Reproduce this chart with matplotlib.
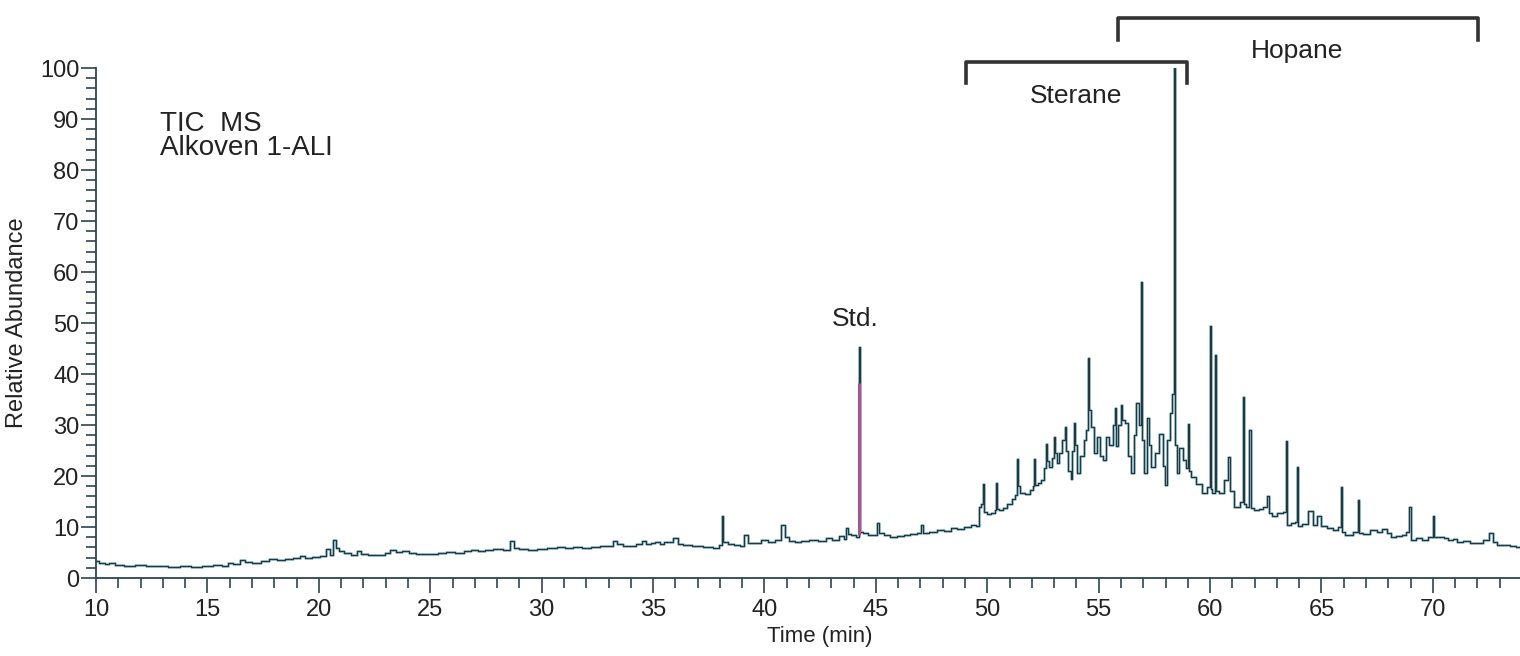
import numpy as np
import matplotlib.pyplot as plt
from matplotlib.ticker import MultipleLocator

plt.rcParams['font.family'] = ['Liberation Sans', 'DejaVu Sans']

# TIC trace (time in min, relative abundance in %)
time = [
    10.0, 10.3, 10.5, 10.7, 11.0, 11.5, 12.0, 12.5, 13.0, 13.5, 14.0, 14.5, 15.0, 15.5, 15.8,
    16.0, 16.3, 16.6, 16.8, 17.2, 17.6, 17.9, 18.3, 18.7, 19.0, 19.3, 19.5, 19.9, 20.2, 20.4,
    20.6, 20.7, 20.8, 21.0, 21.3, 21.6, 21.8, 22.0, 22.4, 22.8, 23.1, 23.3, 23.6, 23.9, 24.2,
    24.5, 24.9, 25.2, 25.5, 25.9, 26.3, 26.7, 27.0, 27.3, 27.6, 28.0, 28.5, 28.7, 28.8, 29.2,
    29.6, 30.0, 30.5, 30.9, 31.2, 31.6, 32.0, 32.4, 32.8, 33.1, 33.3, 33.5, 33.8, 34.1, 34.4,
    34.6, 34.8, 35.0, 35.2, 35.4, 35.6, 35.8, 36.0, 36.2, 36.5, 37.0, 37.5, 37.9, 38.05, 38.1,
    38.2, 38.5, 38.8, 39.0, 39.15, 39.4, 39.7, 40.0, 40.3, 40.6, 40.85, 41.0, 41.2, 41.5, 41.8,
    42.2, 42.6, 42.9, 43.2, 43.5, 43.65, 43.7, 43.8, 44.0, 44.2, 44.26, 44.32, 44.5, 44.8, 45.0,
    45.08, 45.2, 45.5, 45.8, 46.1, 46.4, 46.7, 47.0, 47.06, 47.15, 47.6, 47.9, 48.2, 48.5, 48.8,
    49.1, 49.4, 49.6, 49.64, 49.80, 49.85, 49.90, 50.05, 50.30, 50.38, 50.41, 50.46, 50.6, 50.8,
    51.0, 51.2, 51.33, 51.36, 51.42, 51.55, 51.8, 52.0, 52.08, 52.11, 52.16, 52.35, 52.5, 52.6,
    52.64, 52.7, 52.82, 52.95, 53.0, 53.06, 53.16, 53.3, 53.45, 53.49, 53.55, 53.7, 53.78, 53.86,
    53.9, 53.96, 54.1, 54.25, 54.4, 54.5, 54.55, 54.6, 54.7, 54.85, 55.0, 55.15, 55.25, 55.4,
    55.55, 55.7, 55.74, 55.8, 55.95, 56.02, 56.1, 56.25, 56.4, 56.51, 56.62, 56.76, 56.85, 56.92,
    56.98, 57.08, 57.22, 57.3, 57.42, 57.6, 57.82, 57.92, 58.0, 58.13, 58.25, 58.35, 58.40, 58.46,
    58.53, 58.7, 58.88, 59.0, 59.05, 59.1, 59.2, 59.5, 59.75, 59.95, 60.0, 60.05, 60.15, 60.25,
    60.3, 60.5, 60.75, 60.85, 60.92, 61.2, 61.45, 61.5, 61.55, 61.65, 61.8, 61.86, 62.05, 62.3,
    62.45, 62.62, 62.7, 62.85, 63.15, 63.38, 63.44, 63.5, 63.75, 63.9, 63.93, 63.98, 64.3, 64.53,
    64.68, 64.9, 65.1, 65.4, 65.6, 65.85, 65.89, 65.95, 66.2, 66.6, 66.66, 66.72, 67.0, 67.35,
    67.6, 67.85, 68.0, 68.2, 68.5, 68.7, 68.9, 68.95, 69.05, 69.4, 69.6, 69.95, 70.02, 70.1,
    70.4, 70.6, 70.8, 71.0, 71.2, 71.5, 71.8, 72.1, 72.4, 72.64, 72.8, 73.0, 73.3, 73.6, 73.9,
]
abundance = [
    3.3, 3.0, 2.8, 2.9, 2.5, 2.4, 2.5, 2.4, 2.3, 2.1, 2.3, 2.2, 2.4, 2.5, 2.4,
    2.9, 2.8, 3.6, 3.2, 3.0, 3.4, 3.7, 3.6, 3.8, 3.9, 4.3, 4.0, 4.1, 4.4, 5.6,
    4.5, 7.4, 5.8, 5.2, 4.9, 4.6, 5.2, 4.7, 4.5, 4.6, 4.9, 5.4, 5.1, 5.3, 5.0,
    4.8, 4.7, 4.7, 4.9, 5.1, 5.0, 5.3, 5.5, 5.2, 5.4, 5.6, 5.4, 7.2, 5.8, 5.6,
    5.5, 5.6, 5.8, 6.0, 5.8, 6.0, 5.8, 6.0, 6.2, 6.3, 7.3, 6.6, 6.2, 6.3, 6.7,
    7.2, 6.6, 6.8, 7.0, 6.6, 7.1, 7.0, 7.8, 6.7, 6.5, 6.3, 6.1, 5.9, 6.4, 12.2,
    7.0, 6.6, 6.5, 6.3, 8.4, 6.8, 6.9, 7.5, 7.0, 7.4, 10.4, 8.0, 7.3, 7.1, 7.2,
    7.4, 7.3, 7.8, 7.4, 8.2, 7.6, 9.8, 8.6, 8.4, 8.0, 45.3, 9.0, 8.8, 8.4, 8.5,
    10.8, 8.8, 8.4, 8.0, 8.3, 8.5, 8.6, 8.8, 10.4, 8.8, 9.0, 9.4, 9.3, 9.8, 9.6,
    10.0, 10.3, 10.2, 14.0, 14.5, 18.4, 13.0, 12.6, 12.8, 13.4, 18.6, 13.6, 13.3, 13.8,
    14.6, 15.5, 16.2, 23.3, 18.0, 16.6, 16.4, 17.2, 18.0, 23.3, 18.2, 18.6, 19.2, 21.5,
    26.3, 23.0, 21.8, 23.5, 27.6, 24.5, 22.5, 24.5, 27.0, 29.7, 25.0, 21.0, 19.5, 25.0,
    30.4, 26.0, 20.5, 24.0, 27.0, 29.0, 43.2, 33.0, 29.7, 24.5, 27.7, 24.0, 23.1, 27.7,
    26.0, 30.0, 33.3, 25.8, 30.0, 34.0, 31.0, 30.4, 24.0, 20.5, 28.0, 34.3, 30.0, 58.0,
    27.0, 20.5, 31.4, 26.0, 21.8, 24.5, 28.3, 22.0, 18.3, 27.0, 32.3, 36.0, 100.0, 26.0,
    20.5, 25.4, 23.1, 21.5, 30.2, 21.0, 19.8, 18.5, 16.6, 17.9, 49.4, 17.5, 16.6, 43.7,
    17.0, 16.6, 19.2, 23.8, 17.0, 14.0, 15.0, 35.4, 14.5, 14.0, 29.0, 13.8, 13.3, 13.6,
    14.0, 16.0, 12.8, 12.1, 12.7, 13.0, 26.9, 10.4, 10.8, 11.0, 21.8, 10.1, 10.6, 13.1,
    10.4, 12.1, 10.1, 9.8, 9.4, 10.0, 17.9, 9.1, 8.5, 9.0, 15.3, 8.8, 8.6, 9.4,
    9.0, 9.7, 8.9, 8.1, 8.3, 8.5, 9.0, 14.0, 7.5, 7.8, 7.5, 8.0, 12.1, 8.1,
    8.0, 7.8, 7.4, 7.6, 7.1, 7.3, 6.8, 6.9, 7.5, 8.8, 7.0, 6.5, 6.4, 6.2, 6.0,
]

# internal standard peak (time, height of coloured lower part)
std_time = 44.26
std_low = 38.2

fig = plt.figure(figsize=(15.2, 6.56), dpi=100)
ax = fig.add_axes([0.0632, 0.1189, 0.9368, 0.7774])

ax.plot(time, abundance, color='#4a9bb5', lw=2.0, alpha=0.55, drawstyle='steps-mid')
ax.plot(time, abundance, color='#25363d', lw=0.9, drawstyle='steps-mid')
ax.vlines(std_time, 8.4, std_low, color='#b0508c', lw=2.2)

ax.set_xlim(10, 73.91)
ax.set_ylim(0, 100)
for s in ['top', 'right']:
    ax.spines[s].set_visible(False)
for s in ['left', 'bottom']:
    ax.spines[s].set_color('#2d4450')
    ax.spines[s].set_linewidth(1.3)

ax.xaxis.set_major_locator(MultipleLocator(5))
ax.xaxis.set_minor_locator(MultipleLocator(1))
ax.yaxis.set_major_locator(MultipleLocator(10))
ax.yaxis.set_minor_locator(MultipleLocator(2))
ax.tick_params(which='both', direction='out', color='#2d4450', width=1.2)
ax.tick_params(which='major', length=11, labelsize=17, labelcolor='#222222')
ax.tick_params(which='minor', length=7)
ax.tick_params(axis='x', which='major', pad=4)
ax.tick_params(axis='y', which='major', pad=1)

ax.set_xlabel('Time (min)', fontsize=16, color='#222222')
ax.xaxis.set_label_coords(0.508, -0.095)
ax.set_ylabel('Relative Abundance', fontsize=17, color='#222222')
ax.yaxis.set_label_coords(-0.048, 0.5)

ax.text(12.87, 91.6, 'TIC  MS\nAlkoven 1-ALI', fontsize=20, va='top', ha='left',
        linespacing=0.92, color='#222222')
ax.text(44.07, 50.8, 'Std.', fontsize=19, ha='center', va='center', color='#222222')

# Sterane / Hopane brackets above the trace
ax.plot([49.05, 49.05, 58.97, 58.97], [97.0, 101.2, 101.2, 97.0], color='#333333', lw=2.6, clip_on=False)
ax.plot([55.87, 55.87, 72.03, 72.03], [105.5, 109.8, 109.8, 105.5], color='#333333', lw=2.6, clip_on=False)
ax.text(54.0, 94.6, 'Sterane', fontsize=19, ha='center', va='center', color='#222222')
ax.text(63.9, 103.3, 'Hopane', fontsize=19, ha='center', va='center', color='#222222', clip_on=False)

plt.savefig('out.png', dpi=100)
